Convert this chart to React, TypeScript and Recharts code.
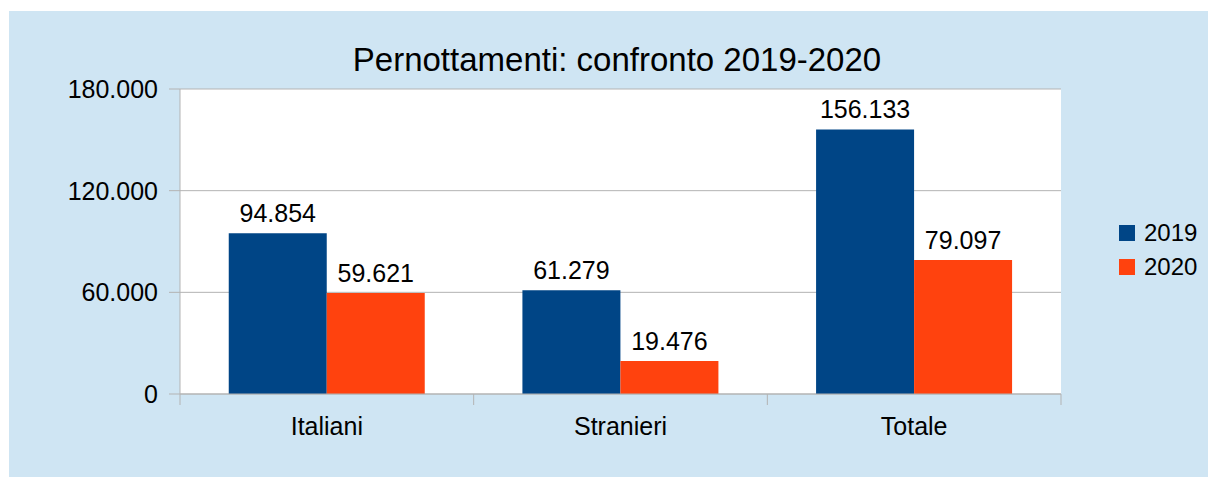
import { BarChart, Bar, XAxis, YAxis, CartesianGrid, LabelList } from "recharts";

const categories = ["Italiani", "Stranieri", "Totale"];
const values2019 = [94854, 61279, 156133];
const values2020 = [59621, 19476, 79097];
const yTicks = [0, 60000, 120000, 180000];
const seriesNames = ["2019", "2020"];
const seriesColors = ["#004586", "#ff420e"];

const data = categories.map((name, i) => ({
  name,
  "2019": values2019[i],
  "2020": values2020[i],
}));

const fmt = (v: number) => String(v).replace(/\B(?=(\d{3})+(?!\d))/g, ".");

const FONT = "'Liberation Sans', Arial, sans-serif";
const CHART_W = 1199;
const CHART_H = 466;
const PLOT_LEFT = 171;
const PLOT_W = 881;
const band = PLOT_W / categories.length;

function CategoryTick(props: any) {
  const { x, y, payload, index } = props;
  const half = band / 2;
  return (
    <g>
      <line x1={x - half} y1={y} x2={x - half} y2={y + 11} stroke="#b3b3b3" />
      {index === categories.length - 1 && (
        <line x1={x + half} y1={y} x2={x + half} y2={y + 11} stroke="#b3b3b3" />
      )}
      <text x={x} y={y + 41} textAnchor="middle" fontSize={25} fill="#000" fontFamily={FONT}>
        {payload.value}
      </text>
    </g>
  );
}

export default function App() {
  return (
    <div
      style={{
        position: "absolute",
        left: 9,
        top: 11,
        width: CHART_W,
        height: CHART_H,
        background: "#cfe5f3",
        fontFamily: FONT,
      }}
    >
      <div
        style={{
          position: "absolute",
          left: 0,
          width: 1216,
          top: 31,
          textAlign: "center",
          fontSize: 33,
          lineHeight: "36px",
          color: "#000",
          whiteSpace: "nowrap",
        }}
      >
        Pernottamenti: confronto 2019-2020
      </div>
      <div
        style={{
          position: "absolute",
          left: 1110,
          top: 205,
          fontSize: 24,
          color: "#000",
        }}
      >
        {seriesNames.map((s, i) => (
          <div key={s} style={{ display: "flex", alignItems: "center", height: 34 }}>
            <span style={{ width: 16, height: 16, background: seriesColors[i], marginRight: 9 }} />
            <span>{s}</span>
          </div>
        ))}
      </div>
      <BarChart
        width={CHART_W}
        height={CHART_H}
        data={data}
        margin={{ top: 78, right: CHART_W - PLOT_LEFT - PLOT_W, bottom: 23, left: 0 }}
        barCategoryGap="16.6%"
        barGap={0}
      >
        <CartesianGrid vertical={false} stroke="#b3b3b3" fill="#ffffff" />
        <XAxis
          dataKey="name"
          height={60}
          stroke="#b3b3b3"
          tickLine={false}
          tickSize={0}
          tickMargin={0}
          tick={<CategoryTick />}
          interval={0}
        />
        <YAxis
          width={PLOT_LEFT}
          domain={[0, 180000]}
          ticks={yTicks}
          tickFormatter={fmt}
          stroke="#b3b3b3"
          tickSize={11}
          tickMargin={11}
          tick={{ fill: "#000", fontSize: 25, fontFamily: FONT }}
        />
        {seriesNames.map((s, i) => (
          <Bar key={s} dataKey={s} fill={seriesColors[i]} isAnimationActive={false}>
            <LabelList
              dataKey={s}
              position="top"
              offset={11}
              formatter={(v: any) => fmt(Number(v))}
              style={{ fill: "#000", fontSize: 25, fontFamily: FONT }}
            />
          </Bar>
        ))}
      </BarChart>
    </div>
  );
}
